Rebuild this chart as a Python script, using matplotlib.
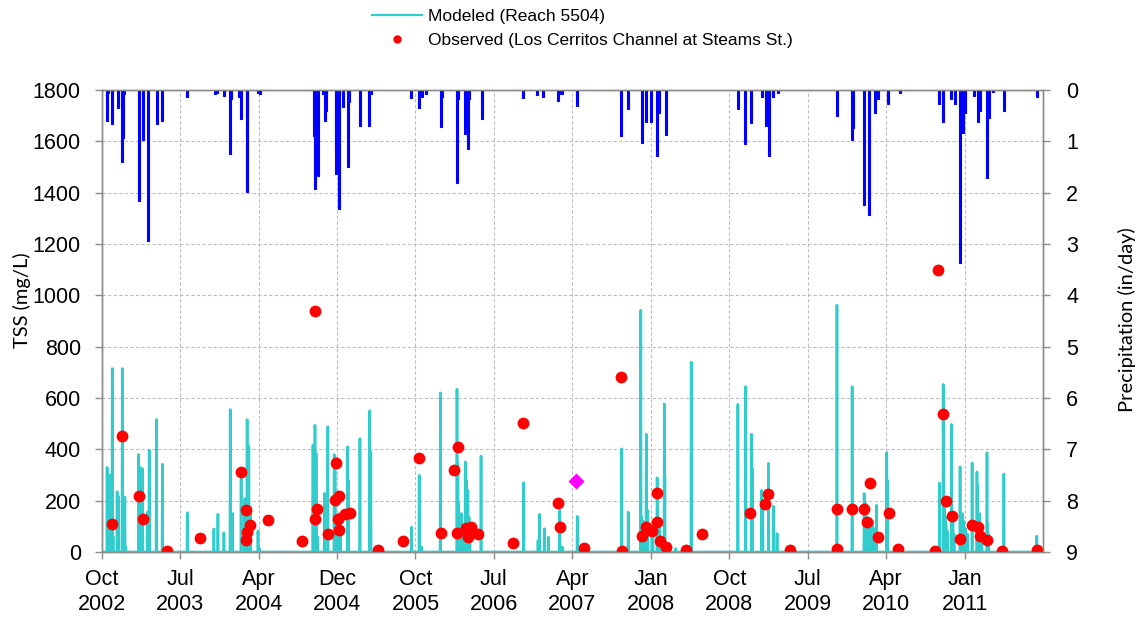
import matplotlib
matplotlib.use('Agg')
import matplotlib.pyplot as plt
from matplotlib.lines import Line2D
import pandas as pd

plt.rcParams['font.family'] = ['Liberation Sans', 'DejaVu Sans']

# ---------------- data ----------------
modeled_dates = [
    '2002-10-20', '2002-10-30', '2002-11-07', '2002-11-10', '2002-11-24', '2002-11-29',
    '2002-12-12', '2002-12-15', '2002-12-21', '2002-12-24',
    '2003-02-07', '2003-02-12', '2003-02-21', '2003-03-10', '2003-03-16', '2003-04-10',
    '2003-05-01', '2003-07-27', '2003-10-28', '2003-11-11', '2003-12-02', '2003-12-24',
    '2004-01-01', '2004-01-31', '2004-02-13', '2004-02-21', '2004-02-27', '2004-03-04',
    '2004-03-30', '2004-04-04',
    '2004-10-08', '2004-10-15', '2004-10-19', '2004-10-20', '2004-10-24', '2004-11-17',
    '2004-11-29', '2004-12-21', '2004-12-24', '2004-12-27', '2005-01-02', '2005-01-08',
    '2005-01-12', '2005-02-06', '2005-02-09', '2005-03-21', '2005-04-24', '2005-04-28',
    '2005-09-17', '2005-10-14', '2005-10-22', '2005-12-27',
    '2006-02-23', '2006-02-26', '2006-03-01', '2006-03-03', '2006-03-06', '2006-03-10',
    '2006-03-14', '2006-03-18', '2006-03-24', '2006-03-28', '2006-04-02', '2006-04-06',
    '2006-04-09', '2006-05-18',
    '2006-10-14', '2006-12-03', '2006-12-08', '2006-12-25', '2007-01-08', '2007-02-17',
    '2007-02-26', '2007-04-19',
    '2007-09-21', '2007-10-14', '2007-11-27', '2007-11-30', '2007-12-02', '2007-12-05',
    '2007-12-16', '2007-12-21', '2008-01-05', '2008-01-08', '2008-01-23', '2008-01-25',
    '2008-01-28', '2008-02-01', '2008-02-05', '2008-02-17', '2008-02-19', '2008-03-28',
    '2008-05-21',
    '2008-10-31', '2008-11-27', '2008-12-18', '2008-12-20', '2009-01-22', '2009-01-26',
    '2009-02-15', '2009-03-05', '2009-03-17',
    '2009-10-12', '2009-12-04', '2010-01-15', '2010-01-18', '2010-01-21', '2010-01-28',
    '2010-02-01', '2010-02-05', '2010-02-10', '2010-02-14', '2010-02-20', '2010-02-27',
    '2010-04-04', '2010-04-06',
    '2010-10-05', '2010-10-18', '2010-10-20', '2010-10-22', '2010-10-25', '2010-10-28',
    '2010-11-02', '2010-11-16', '2010-11-21', '2010-11-25', '2010-12-16', '2010-12-20',
    '2010-12-24', '2010-12-29', '2011-01-04', '2011-01-10', '2011-01-27', '2011-02-13',
    '2011-02-15', '2011-02-18', '2011-02-22', '2011-02-26', '2011-03-02', '2011-03-20',
    '2011-03-22', '2011-03-25', '2011-05-18', '2011-09-10',
]
modeled_tss = [
    330, 300, 715, 60, 235, 215,
    715, 100, 215, 20,
    380, 330, 325, 156, 397, 516,
    342, 153, 90, 147, 75, 555,
    150, 286, 208, 516, 412, 175,
    82, 13,
    416, 494, 384, 100, 60, 228,
    488, 380, 370, 120, 100, 150,
    80, 410, 280, 442, 550, 390,
    97, 299, 20, 620,
    634, 345, 188, 120, 90, 150,
    100, 70, 351, 280, 240, 136,
    60, 374,
    270, 45, 147, 91, 58, 162,
    20, 139,
    402, 156, 942, 136, 80, 120,
    459, 162, 100, 60, 289, 165,
    120, 90, 60, 577, 292, 13,
    740,
    575, 644, 459, 325, 240, 188,
    345, 178, 72,
    962, 644, 228, 156, 189, 90,
    130, 100, 80, 120, 90, 182,
    387, 280,
    269, 653, 384, 200, 140, 100,
    80, 497, 124, 70, 332, 110,
    150, 120, 90, 70, 347, 312,
    260, 100, 150, 80, 60, 387,
    110, 70, 304, 62,
]

obs_dates = [
    '2002-11-07', '2002-12-12', '2003-02-09', '2003-02-22', '2003-05-17', '2003-09-09',
    '2004-01-31', '2004-02-17', '2004-03-01', '2004-02-22', '2004-02-16', '2004-05-04',
    '2004-08-30', '2004-10-15', '2004-10-14', '2004-10-23', '2004-11-29', '2004-12-27',
    '2004-12-25', '2005-01-06', '2005-01-04', '2005-01-08', '2005-01-28', '2005-02-13',
    '2005-05-24', '2005-08-17', '2005-10-15', '2005-12-30', '2006-02-14', '2006-02-28',
    '2006-02-24', '2006-03-25', '2006-04-12', '2006-04-01', '2006-05-07', '2006-09-07',
    '2006-10-11', '2007-02-10', '2007-02-19', '2007-05-12', '2007-09-18', '2007-09-21',
    '2007-12-02', '2007-12-16', '2008-01-04', '2008-01-23', '2008-01-22', '2008-02-02',
    '2008-02-22', '2008-05-03', '2008-06-29', '2008-12-13', '2009-02-03', '2009-02-13',
    '2009-04-30', '2009-10-12', '2009-10-13', '2009-12-05', '2010-01-16', '2010-01-25',
    '2010-02-03', '2010-03-03', '2010-04-12', '2010-05-12', '2010-09-19', '2010-09-30',
    '2010-10-19', '2010-10-27', '2010-11-17', '2010-12-16', '2011-01-27', '2011-02-15',
    '2011-02-24', '2011-03-21', '2011-05-11', '2011-09-10',
]
obs_tss = [
    110, 450, 220, 130, 3, 56,
    311, 165, 107, 79, 45, 126,
    42, 940, 130, 169, 69, 348,
    204, 217, 130, 85, 147, 152,
    9, 42, 368, 73, 320, 410,
    74, 94, 98, 59, 69, 36,
    504, 189, 98, 17, 680, 3,
    64, 98, 82, 230, 117, 43,
    18, 8, 69, 150, 187, 225,
    8, 168, 13, 168, 168, 117,
    268, 60, 150, 13, 4, 1100,
    537, 198, 139, 51, 107, 98,
    62, 46, 4, 8,
]

special_dates = ['2007-04-13']
special_tss = [277]

precip_dates = [
    '2002-10-20', '2002-10-23', '2002-11-05', '2002-11-26', '2002-12-12', '2002-12-14',
    '2002-12-18', '2003-02-08', '2003-02-23', '2003-03-13', '2003-04-11', '2003-05-01',
    '2003-07-27', '2003-10-31', '2003-11-08', '2003-12-03', '2003-12-24', '2003-12-27',
    '2004-01-24', '2004-01-31', '2004-02-20', '2004-02-22', '2004-03-31', '2004-04-05',
    '2004-10-11', '2004-10-16', '2004-10-24', '2004-11-11', '2004-11-18', '2004-11-21',
    '2004-11-24', '2004-12-27', '2004-12-29', '2005-01-08', '2005-01-21', '2005-02-07',
    '2005-02-10', '2005-03-20', '2005-04-23', '2005-04-27',
    '2005-09-16', '2005-10-14', '2005-10-25', '2005-11-08', '2005-12-29', '2006-01-02',
    '2006-02-22', '2006-02-26', '2006-03-23', '2006-04-01', '2006-04-05', '2006-05-20',
    '2006-10-11', '2006-11-28', '2006-12-21', '2007-02-10', '2007-02-15', '2007-02-24',
    '2007-04-19',
    '2007-09-18', '2007-10-14', '2007-11-30', '2007-12-15', '2008-01-02', '2008-01-23',
    '2008-01-29', '2008-02-22',
    '2008-11-01', '2008-11-24', '2008-12-16', '2009-01-22', '2009-02-05', '2009-02-15',
    '2009-03-03', '2009-03-21',
    '2009-10-11', '2009-12-05', '2009-12-07', '2010-01-15', '2010-02-01', '2010-02-21',
    '2010-03-03', '2010-04-10', '2010-05-20',
    '2010-10-04', '2010-10-18', '2010-11-16', '2010-11-28', '2010-12-16', '2010-12-27',
    '2011-01-02', '2011-02-01', '2011-02-18', '2011-02-24', '2011-03-21', '2011-03-27',
    '2011-04-09', '2011-05-18', '2011-09-09',
]
precip_in = [
    0.60, 0.05, 0.67, 0.36, 1.40, 0.93,
    0.08, 2.17, 0.98, 2.95, 0.67, 0.60,
    0.14, 0.08, 0.05, 0.11, 1.24, 0.18,
    0.14, 0.57, 1.99, 0.54, 0.05, 0.07,
    0.90, 1.93, 1.68, 0.08, 0.60, 0.40,
    0.11, 1.63, 1.12, 2.31, 0.34, 1.50,
    0.24, 0.70, 0.70, 0.08,
    0.16, 0.36, 0.14, 0.08, 0.72, 0.14,
    1.81, 0.17, 0.86, 1.14, 0.17, 0.56,
    0.16, 0.10, 0.14, 0.22, 0.08, 0.08,
    0.31,
    0.90, 0.37, 1.03, 0.63, 0.63, 1.29,
    0.44, 0.88,
    0.37, 1.05, 0.65, 0.14, 0.70, 1.29,
    0.14, 0.05,
    0.50, 0.98, 0.75, 2.25, 2.43, 0.44,
    0.17, 0.27, 0.05,
    0.27, 0.63, 0.17, 0.27, 3.38, 0.83,
    0.44, 0.11, 0.62, 0.40, 1.72, 0.55,
    0.03, 0.40, 0.14,
]

x_tick_labels = ['Oct\n2002', 'Jul\n2003', 'Apr\n2004', 'Dec\n2004', 'Oct\n2005', 'Jul\n2006',
                 'Apr\n2007', 'Jan\n2008', 'Oct\n2008', 'Jul\n2009', 'Apr\n2010', 'Jan\n2011']
tss_ticks = [0, 200, 400, 600, 800, 1000, 1200, 1400, 1600, 1800]
precip_ticks = [0, 1, 2, 3, 4, 5, 6, 7, 8, 9]

legend_labels = ['Modeled (Reach 5504)', 'Observed (Los Cerritos Channel at Steams St.)']
tss_label = 'TSS (mg/L)'
precip_label = 'Precipitation (in/day)'

# ---------------- build ----------------
start = pd.Timestamp('2002-10-01')
end = pd.Timestamp('2011-09-30')
days = pd.date_range(start, end, freq='D')
mod = (pd.Series(modeled_tss, index=pd.to_datetime(modeled_dates))
       .groupby(level=0).max().reindex(days, fill_value=0))

CYAN = '#33CCCC'
GRAY = '#8C8C8C'

fig = plt.figure(figsize=(11.41, 6.18), dpi=100)
ax1 = fig.add_axes([0.0891, 0.1068, 0.8246, 0.7476])
ax2 = ax1.twinx()

ax1.plot(mod.index, mod.values, color=CYAN, lw=1.9, zorder=3)
ax1.plot(pd.to_datetime(obs_dates), obs_tss, 'o', color='#FF0000', ms=8.5, mec='none', zorder=5)
ax1.plot(pd.to_datetime(special_dates), special_tss, 'D', color='#FF00FF', ms=8.5, mec='none', zorder=5)

ax2.bar(pd.to_datetime(precip_dates), precip_in, width=7, color='#0000FF',
        edgecolor='#0000FF', linewidth=0.8)

ax1.set_xlim(start, end)
ax1.set_ylim(0, 1800)
ax2.set_ylim(9, 0)

xt = [start + pd.Timedelta(days=274 * k) for k in range(len(x_tick_labels))]
ax1.set_xticks(xt)
ax1.set_xticklabels(x_tick_labels, fontsize=15.5, linespacing=1.25)
ax1.set_yticks(tss_ticks)
ax1.set_yticklabels([str(t) for t in tss_ticks], fontsize=15.5)
ax2.set_yticks(precip_ticks)
ax2.set_yticklabels([str(t) for t in precip_ticks], fontsize=15.5)

ax1.tick_params(axis='x', length=5, width=1, color=GRAY, pad=7)
ax1.tick_params(axis='y', length=5, width=1, color=GRAY, pad=10)
ax2.tick_params(axis='y', length=5, width=1, color=GRAY, pad=12)

ax1.grid(True, color='#BDBDBD', ls=(0, (3, 2)), lw=0.8)
ax1.set_axisbelow(True)

for ax in (ax1, ax2):
    for s in ax.spines.values():
        s.set_color(GRAY)
        s.set_linewidth(1.0)

fig.text(22 / 1141, 1 - 300 / 618, tss_label, rotation=90, ha='center', va='center',
         fontsize=14.5, family=['Lato', 'DejaVu Sans'])
fig.text(1127 / 1141, 1 - 320 / 618, precip_label, rotation=90, ha='center', va='center',
         fontsize=14.5, family=['Lato', 'DejaVu Sans'])

handles = [Line2D([], [], color=CYAN, lw=1.6),
           Line2D([], [], ls='none', marker='o', color='#FF0000', ms=6, mec='none')]
fig.legend(handles, legend_labels, loc='upper left', bbox_to_anchor=(372 / 1141, 0.985),
           frameon=False, fontsize=12.5, handlelength=2.9, handletextpad=0.3,
           labelspacing=0.5, borderpad=0, borderaxespad=0)

fig.savefig('out.png', dpi=100)
